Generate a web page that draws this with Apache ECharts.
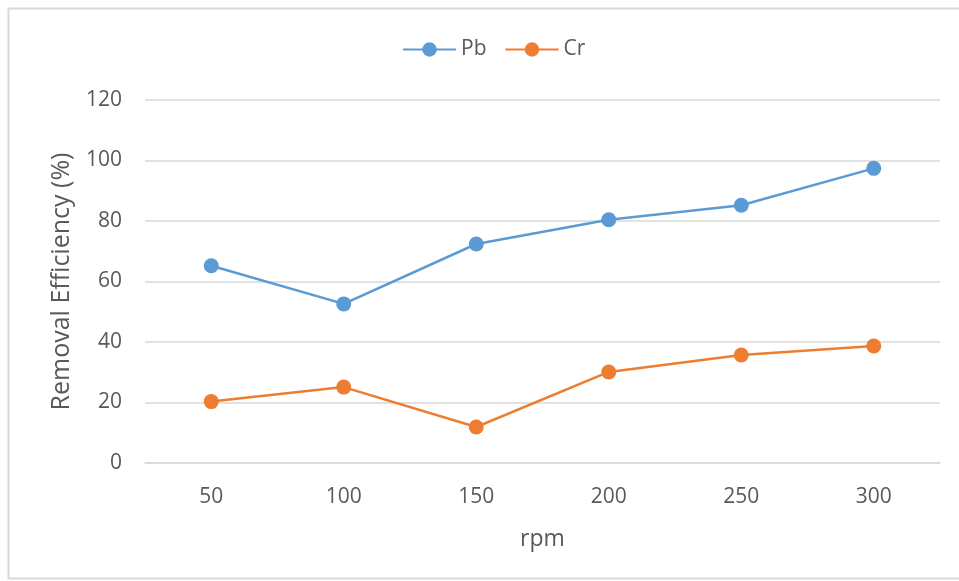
<!DOCTYPE html>
<html><head><meta charset="utf-8">
<script src="https://cdn.jsdelivr.net/npm/echarts@6/dist/echarts.min.js"></script>
<style>html,body{margin:0;padding:0;background:#fff}#c{width:959px;height:581px}</style>
</head><body><div id="c"></div>
<script>
const categories = ['50','100','150','200','250','300'];
const pbValues = [65.2, 52.6, 72.4, 80.4, 85.2, 97.4];
const crValues = [20.3, 25.1, 11.9, 30.1, 35.7, 38.7];
const yTicks = [0, 20, 40, 60, 80, 100, 120];

const font = '"Open Sans", sans-serif';
const chart = echarts.init(document.getElementById('c'));
chart.setOption({
  animation: false,
  backgroundColor: '#fff',
  graphic: [{type:'rect', shape:{x:8.5,y:8.5,width:960,height:570}, style:{fill:'none', stroke:'#d9d9d9', lineWidth:2}, silent:true}],
  legend: {
    top: 34, left: 397, itemWidth: 53, itemHeight: 18, itemGap: 18,
    textStyle: {color:'#595959', fontSize:21, fontFamily:font},
    data: ['Pb','Cr']
  },
  grid: {left:145, right:19, top:100, bottom:118},
  xAxis: {
    type:'category', data: categories, boundaryGap:true,
    name:'rpm', nameLocation:'middle', nameGap:65,
    nameTextStyle:{color:'#595959', fontSize:23, fontFamily:font},
    axisLine:{lineStyle:{color:'#d9d9d9', width:1.5}}, axisTick:{show:false},
    axisLabel:{color:'#595959', fontSize:21, fontFamily:font, margin:24}
  },
  yAxis: {
    type:'value', min:yTicks[0], max:yTicks[yTicks.length-1], interval:20,
    name:'Removal Efficiency (%)', nameLocation:'middle', nameGap:71,
    nameTextStyle:{color:'#595959', fontSize:25, fontFamily:font},
    axisLine:{show:false}, axisTick:{show:false},
    splitLine:{lineStyle:{color:'#d9d9d9', width:1.5}},
    axisLabel:{color:'#595959', fontSize:21, fontFamily:font, margin:23}
  },
  series: [
    {name:'Pb', type:'line', data: pbValues, symbol:'circle', symbolSize:15,
     lineStyle:{color:'#5B9BD5', width:2.5}, itemStyle:{color:'#5B9BD5'}},
    {name:'Cr', type:'line', data: crValues, symbol:'circle', symbolSize:15,
     lineStyle:{color:'#ED7D31', width:2.5}, itemStyle:{color:'#ED7D31'}}
  ]
});
</script></body></html>
